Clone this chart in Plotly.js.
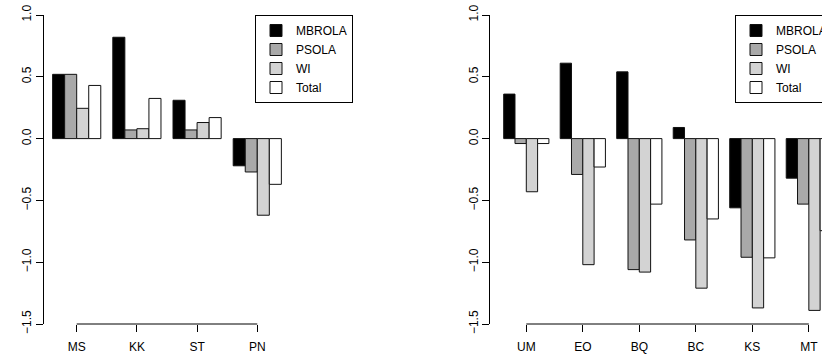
<!DOCTYPE html>
<html><head><meta charset="utf-8">
<script src="https://cdn.plot.ly/plotly-3.0.1.min.js"></script>
<style>html,body{margin:0;padding:0;background:#fff}</style>
</head><body><div id="chart" style="width:822px;height:360px"></div>
<script>
// ---- data ----
const seriesNames = ["MBROLA", "PSOLA", "WI", "Total"];
const leftCats = ["MS", "KK", "ST", "PN"];
const leftMBROLA = [0.52, 0.82, 0.31, -0.22];
const leftPSOLA  = [0.52, 0.07, 0.07, -0.27];
const leftWI     = [0.245, 0.08, 0.13, -0.62];
const leftTotal  = [0.43, 0.325, 0.17, -0.37];
const rightCats = ["UM", "EO", "BQ", "BC", "KS", "MT"];
const rightMBROLA = [0.36, 0.61, 0.54, 0.09, -0.56, -0.32];
const rightPSOLA  = [-0.04, -0.29, -1.06, -0.82, -0.96, -0.53];
const rightWI     = [-0.43, -1.02, -1.08, -1.21, -1.37, -1.39];
const rightTotal  = [-0.04, -0.23, -0.53, -0.65, -0.965, -0.745];
const yTicks = [-1.5, -1.0, -0.5, 0.0, 0.5, 1.0];

// ---- style ----
const fills = ["#000000", "#a9a9a9", "#d3d3d3", "#ffffff"];
const FONT = "Liberation Sans, Arial, Helvetica, sans-serif";
const W = 822;

const leftVals = [leftMBROLA, leftPSOLA, leftWI, leftTotal];
const rightVals = [rightMBROLA, rightPSOLA, rightWI, rightTotal];

const traces = [];
seriesNames.forEach((n, i) => {
  traces.push({type: "bar", name: n, x: leftCats, y: leftVals[i], xaxis: "x", yaxis: "y",
    legend: "legend", marker: {color: fills[i], line: {color: "#111", width: 1}}, hoverinfo: "skip"});
});
seriesNames.forEach((n, i) => {
  traces.push({type: "bar", name: n, x: rightCats, y: rightVals[i], xaxis: "x2", yaxis: "y2",
    legend: "legend2", marker: {color: fills[i], line: {color: "#111", width: 1}}, hoverinfo: "skip"});
});

function xax(domain, range) {
  return {domain: domain, range: range, type: "category", showline: false, showgrid: false,
    zeroline: false, ticks: "outside", ticklen: 7, tickcolor: "#000", tickwidth: 1,
    ticklabelstandoff: 5,
    tickfont: {family: FONT, size: 12, color: "#000"}, fixedrange: true};
}
function yax(anchor) {
  return {anchor: anchor, domain: [0, 1], range: [-1.5, 1.0], tickvals: yTicks, tickformat: ".1f",
    ticks: "outside", ticklen: 7, tickcolor: "#000", tickwidth: 1, showline: true, linecolor: "#000",
    linewidth: 1, showgrid: false, zeroline: false, tickangle: -90,
    tickfont: {family: FONT, size: 12, color: "#000"}, fixedrange: true};
}
function leg(x, xanchor) {
  return {x: x, xanchor: xanchor, y: 1, yanchor: "top", bgcolor: "#fff", bordercolor: "#000",
    borderwidth: 1, font: {family: FONT, size: 12, color: "#000"}, tracegroupgap: 0};
}

const layout = {
  width: W, height: 360,
  margin: {l: 0, r: 0, t: 15, b: 36, autoexpand: false},
  paper_bgcolor: "#fff", plot_bgcolor: "#fff",
  font: {family: FONT, size: 12, color: "#000"},
  barmode: "group", bargap: 0.2, bargroupgap: 0,
  xaxis: Object.assign(xax([44 / W, 353 / W], [-0.543, 4.59]), {anchor: "y"}),
  yaxis: yax("x"),
  xaxis2: Object.assign(xax([490.3 / W, 1], [-0.637, 5.233]), {anchor: "y2"}),
  yaxis2: yax("x2"),
  legend: leg(353 / W, "right"),
  legend2: leg(735 / W, "left"),
  shapes: [
    {type: "line", xref: "x", yref: "y domain", x0: 0, x1: leftCats.length - 1, y0: 0, y1: 0,
     line: {color: "#000", width: 1}},
    {type: "line", xref: "x2", yref: "y2 domain", x0: 0, x1: rightCats.length - 1, y0: 0, y1: 0,
     line: {color: "#000", width: 1}}
  ]
};

Plotly.newPlot("chart", traces, layout, {displayModeBar: false, staticPlot: true});
</script></body></html>
